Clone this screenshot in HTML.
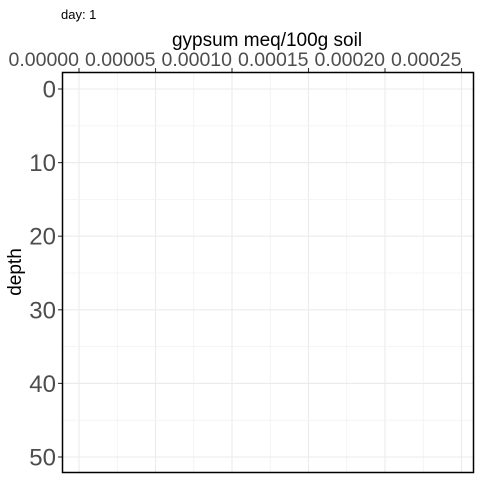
<!DOCTYPE html>
<html><head><meta charset="utf-8"><style>body{margin:0;background:#fff}svg{display:block;font-family:"Liberation Sans",Arial,sans-serif}</style></head>
<body>
<svg id="c" width="480" height="480">
<text x="61" y="19" font-size="13" fill="#000">day: 1</text>
<text x="267" y="46" font-size="19" text-anchor="middle" fill="#000">gypsum meq/100g soil</text>
<text transform="translate(21,272) rotate(-90)" font-size="19" text-anchor="middle" fill="#000">depth</text>
<g id="grid"></g><g id="ticks"></g>
<rect x="62.5" y="72.5" width="411" height="400" fill="none" stroke="#000" stroke-width="1.5"/>
</svg>
<script>
const xTicks=[0,0.00005,0.0001,0.00015,0.0002,0.00025];
const xLabels=["0.00000","0.00005","0.00010","0.00015","0.00020","0.00025"];
const yTicks=[0,10,20,30,40,50];
const yLabels=["0","10","20","30","40","50"];
const ns="http://www.w3.org/2000/svg";
const xs=v=>79+v/0.00005*76.5;
const ys=v=>89+v/10*73.6;
const g=document.getElementById('grid'),t=document.getElementById('ticks');
function mk(p,tag,a){const e=document.createElementNS(ns,tag);for(const k in a)e.setAttribute(k,a[k]);p.appendChild(e);return e;}
for(let i=0;i<xTicks.length;i++){
 const x=xs(xTicks[i]);
 const l=mk(g,'line',{x1:x,x2:x,y1:72,y2:473,stroke:'#ebebeb','stroke-width':1.1});
 
 
 const xm=xs(xTicks[i]+0.000025);
 if(xm<473){const m=mk(g,'line',{x1:xm,x2:xm,y1:72,y2:473,stroke:'#f2f2f2','stroke-width':0.8});
 
 }
 const tk=mk(t,'line',{x1:x,x2:x,y1:68,y2:72,stroke:'#333','stroke-width':1.1});
 
 
 const tx=mk(t,'text',{x:x,y:66,'font-size':19.5,'text-anchor':'end',fill:'#4d4d4d'});
 tx.textContent=xLabels[i];
 
 
}
for(let i=0;i<yTicks.length;i++){
 const y=ys(yTicks[i]);
 const l=mk(g,'line',{x1:62,x2:474,y1:y,y2:y,stroke:'#ebebeb','stroke-width':1.1});
 
 
 const ym=ys(yTicks[i]+5);
 if(ym<473){const m=mk(g,'line',{x1:62,x2:474,y1:ym,y2:ym,stroke:'#f2f2f2','stroke-width':0.8});
 
 }
 const tk=mk(t,'line',{x1:58,x2:62,y1:y,y2:y,stroke:'#333','stroke-width':1.1});
 
 
 const tx=mk(t,'text',{x:56,y:y+8.5,'font-size':24,'text-anchor':'end',fill:'#4d4d4d'});
 tx.textContent=yLabels[i];
 
 
}
</script>
</body></html>
